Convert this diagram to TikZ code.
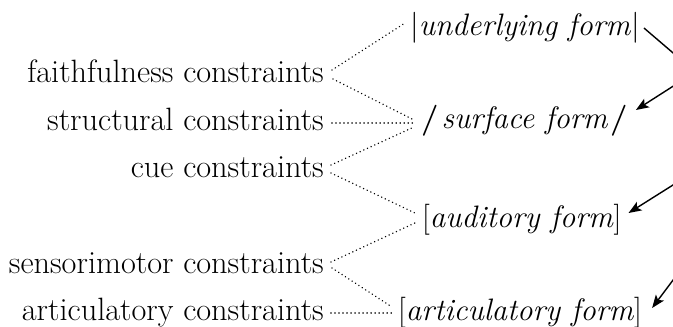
\documentclass[tikz,border=0pt]{standalone}
\usetikzlibrary{arrows.meta}
\begin{document}
\begin{tikzpicture}[x=1pt,y=-1pt,
  lbl/.style={inner sep=0pt,font=\fontsize{32.3}{38}\selectfont},
  frm/.style={inner sep=0pt,font=\fontsize{31}{37}\selectfont},
  dots/.style={line width=1.6pt,dash pattern=on 0.01pt off 4pt,line cap=round},
  arr/.style={line width=1.4pt,-{Stealth[length=13pt,width=10pt,inset=3pt]}},
  plain/.style={line width=1.4pt}]
\useasboundingbox (0,0) rectangle (673,327);
\clip (0,0) rectangle (673,327);
% constraint labels
\node[lbl,anchor=base east] (fa) at (324,82) {faithfulness constraints};
\node[lbl,anchor=base east] (st) at (324,130) {structural constraints};
\node[lbl,anchor=base east] (cu) at (324,177) {cue constraints};
\node[lbl,anchor=base east] (se) at (324,273) {sensorimotor constraints};
\node[lbl,anchor=base east] (ac) at (324,320) {articulatory constraints};
% forms
\node[frm,anchor=base west] (uf) at (410,35) {\textbar\textit{underlying form}\textbar};
\node[frm,anchor=base west] (sf) at (421,128) {\textbf{/}\kern3pt\textit{surface form}\kern2pt\textbf{/}};
\node[frm,anchor=base west] (af) at (422,227) {[\textit{auditory form}]};
\node[frm,anchor=base west] (rf) at (398,320) {[\textit{articulatory form}]};
% dotted connectors
\draw[dots] ([shift={(8,-12)}]fa.base east) -- ([shift={(-5,-12)}]uf.base west);
\draw[dots] ([shift={(9,-3)}]fa.base east) -- ([shift={(-7,-8)}]sf.base west);
\draw[dots] ([shift={(8,-7)}]st.base east) -- ([shift={(-6,-5)}]sf.base west);
\draw[dots] ([shift={(7,-12)}]cu.base east) -- ([shift={(-7,-1)}]sf.base west);
\draw[dots] ([shift={(7,-4)}]cu.base east) -- ([shift={(-5,-13)}]af.base west);
\draw[dots] ([shift={(7,-11)}]se.base east) -- ([shift={(-5,-5)}]af.base west);
\draw[dots] ([shift={(8,-5)}]se.base east) -- ([shift={(-6,-13)}]rf.base west);
\draw[dots] ([shift={(7,-7)}]ac.base east) -- ([shift={(-6,-7)}]rf.base west);
% right-hand arrows (running off the edge)
\coordinate (o1) at (700,76);
\coordinate (o2) at (700,69);
\coordinate (o3) at (700,168);
\coordinate (o4) at (700,244);
\draw[plain] ([shift={(4,-7)}]uf.base east) -- (o1);
\draw[arr] (o2) -- ([shift={(8,-18)}]sf.base east);
\draw[arr] (o3) -- ([shift={(7,-14)}]af.base east);
\draw[arr] (o4) -- ([shift={(10,-12)}]rf.base east);
\end{tikzpicture}
\end{document}
